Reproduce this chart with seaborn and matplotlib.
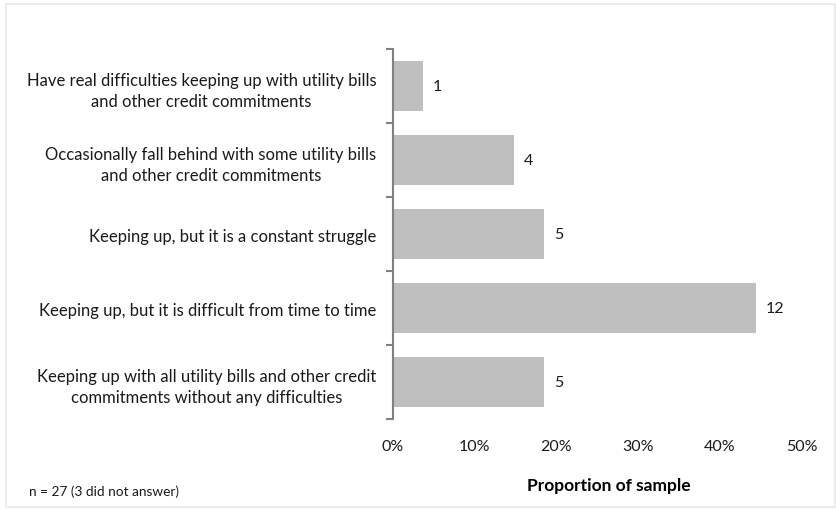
import numpy as np
import pandas as pd
import matplotlib
matplotlib.use("Agg")
import matplotlib.pyplot as plt
import seaborn as sns
from matplotlib.patches import Rectangle
from matplotlib.ticker import PercentFormatter, FixedLocator

categories = [
    "Have real difficulties keeping up with utility bills\nand other credit commitments",
    "Occasionally fall behind with some utility bills\nand other credit commitments",
    "Keeping up, but it is a constant struggle",
    "Keeping up, but it is difficult from time to time",
    "Keeping up with all utility bills and other credit\ncommitments without any difficulties",
]
counts = [1, 4, 5, 12, 5]
n_answered = 27
x_ticks = [0, 0.1, 0.2, 0.3, 0.4, 0.5]

df = pd.DataFrame({"category": categories, "count": counts})
df["share"] = df["count"] / n_answered

sns.set_theme(style="white")
plt.rcParams["font.family"] = ["Lato", "DejaVu Sans"]

fig = plt.figure(figsize=(8.36, 5.10), dpi=100)
ax = fig.add_axes([0.470, 0.176, 0.489, 0.726])

sns.barplot(data=df, x="share", y="category", orient="h", color="#BFBFBF",
            saturation=1, width=0.67, ax=ax, edgecolor="none")

for i, (v, c) in enumerate(zip(df["share"], df["count"])):
    ax.text(v + 0.012, i, str(c), va="center", ha="left", fontsize=11.5, color="#1a1a1a")

ax.set_xlim(0, 0.5)
ax.set_ylim(len(categories) - 0.5, -0.5)
ax.set_xticks(x_ticks)
ax.xaxis.set_major_formatter(PercentFormatter(1.0, decimals=0))
ax.tick_params(axis="x", length=0, pad=14, labelsize=11.5, labelcolor="#1a1a1a")

ax.set_yticks(range(len(categories)))
ax.set_yticklabels(df["category"], multialignment="center", linespacing=1.4,
                   fontsize=12, color="#1a1a1a")
ax.tick_params(axis="y", which="major", length=0, pad=12)
ax.yaxis.set_minor_locator(FixedLocator(np.arange(-0.5, len(categories), 1.0)))
ax.tick_params(axis="y", which="minor", left=True, length=5, width=1.5,
               color="#808080", direction="out")

ax.set_ylabel("")
ax.set_xlabel("Proportion of sample", fontsize=12.5, fontweight="bold", color="#000000")
ax.xaxis.set_label_coords(0.528, -0.156)
for side in ["top", "right", "bottom"]:
    ax.spines[side].set_visible(False)
ax.spines["left"].set_color("#808080")
ax.spines["left"].set_linewidth(1.5)

fig.text(29 / 836, 1 - 492 / 510, "n = 27 (3 did not answer)", fontsize=9.8,
         va="center", ha="left", color="#1a1a1a")

fig.patches.append(Rectangle((6 / 836, 2 / 510), 1 - 7 / 836, 1 - 7 / 510,
                             transform=fig.transFigure, fill=False,
                             edgecolor="#E8E8E8", linewidth=1.2))

fig.savefig("out.png", dpi=100)
